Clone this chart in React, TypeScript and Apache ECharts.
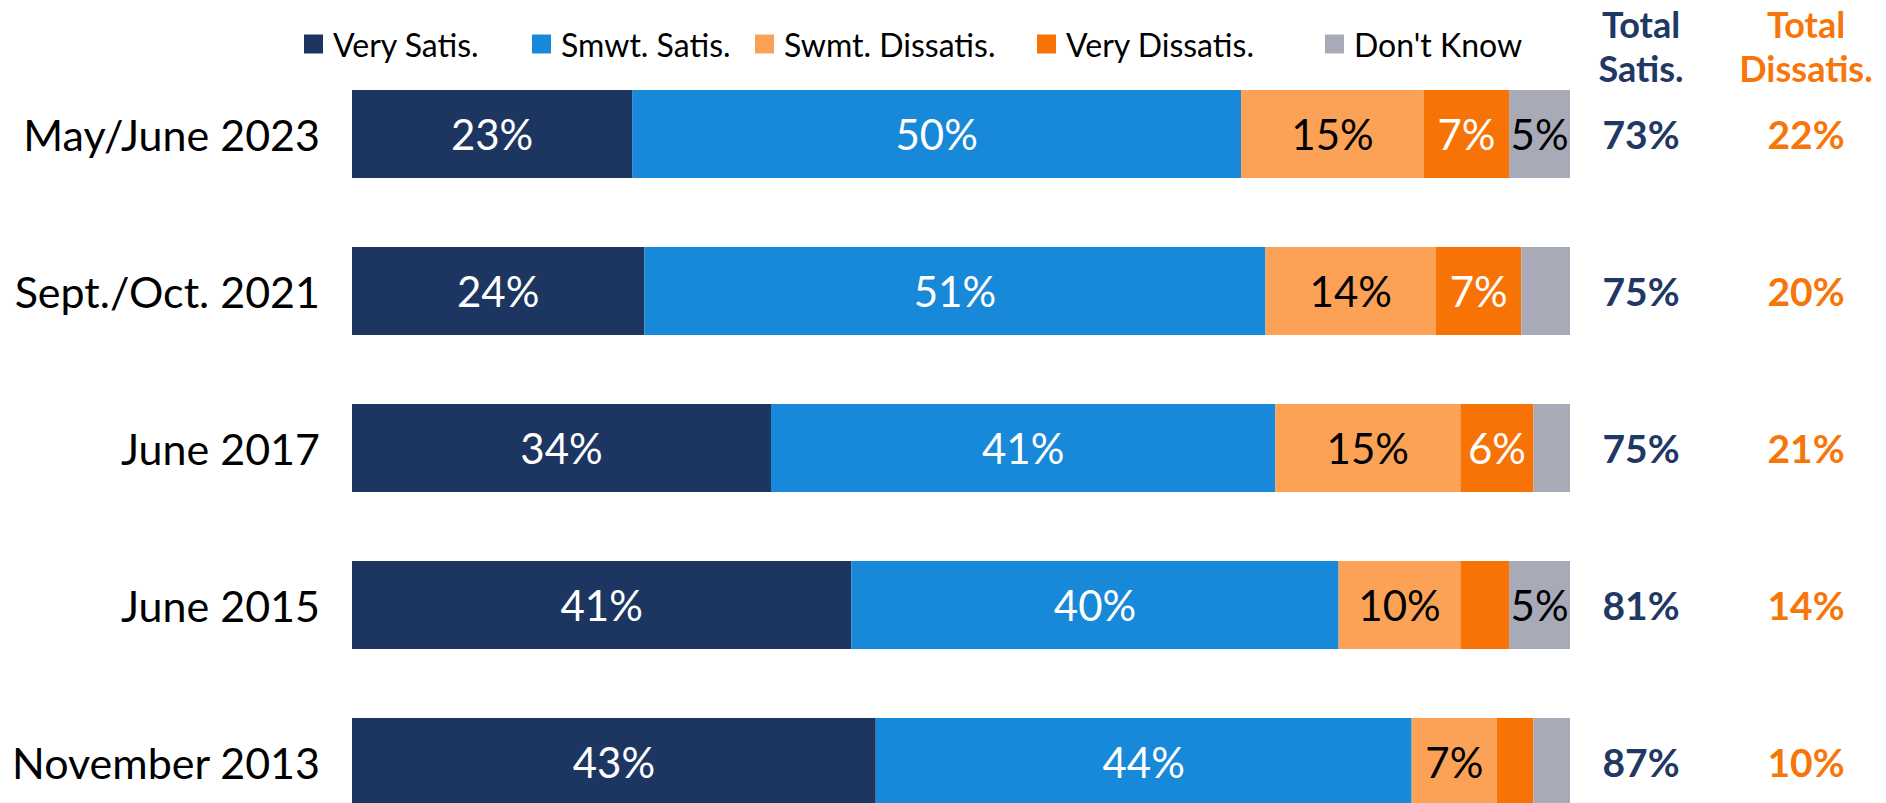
import React, { useEffect, useRef } from 'react';
import * as echarts from 'echarts';

const categories = ['May/June 2023', 'Sept./Oct. 2021', 'June 2017', 'June 2015', 'November 2013'];
const seriesNames = ['Very Satis.', 'Smwt. Satis.', 'Swmt. Dissatis.', 'Very Dissatis.', "Don't Know"];
const verySatis = [23, 24, 34.4, 41, 43];
const smwtSatis = [50, 51, 41.4, 40, 44];
const swmtDissatis = [15, 14, 15.2, 10, 7];
const veryDissatis = [7, 7, 6, 4, 3];
const dontKnow = [5, 4, 3, 5, 3];
const totalColumns = ['Total Satis.', 'Total Dissatis.'];
const totalSatis = [73, 75, 75, 81, 87];
const totalDissatis = [22, 20, 21, 14, 10];

const barColors = ['#1D3661', '#1888D8', '#FBA257', '#F77306', '#A9AAB7'];
const labelColors = ['#FFFFFF', '#FFFFFF', '#000000', '#FFFFFF', '#000000'];
const legendLefts = [304, 532, 755, 1037, 1325];
const totalColors = ['#1F3864', '#F7760A'];
const FONT = 'Lato';

export default function App() {
  const ref = useRef<HTMLDivElement>(null);
  useEffect(() => {
    if (!ref.current) return;
    const chart = echarts.init(ref.current, undefined, { renderer: 'svg' });
    const values = [verySatis, smwtSatis, swmtDissatis, veryDissatis, dontKnow];
    const gridTop = 55.5;
    const gridHeight = 785;
    const barSeries = seriesNames.map((name, k) => ({
      name,
      type: 'bar',
      stack: 'total',
      barWidth: 88,
      xAxisIndex: 0,
      yAxisIndex: 0,
      itemStyle: { color: barColors[k] },
      label: {
        show: true,
        position: 'inside',
        color: labelColors[k],
        fontFamily: FONT,
        fontSize: 42,
        formatter: (p: any) => (p.value >= 5 ? Math.round(p.value) + '%' : ''),
      },
      data: values[k],
    }));
    const totalSeries = [totalSatis, totalDissatis].map((arr, c) => ({
      name: totalColumns[c],
      type: 'scatter',
      xAxisIndex: 1,
      yAxisIndex: 1,
      symbolSize: 0,
      itemStyle: { opacity: 1, color: totalColors[c] },
      label: {
        show: true,
        position: 'inside',
        color: totalColors[c],
        opacity: 1,
        fontFamily: FONT,
        fontWeight: 'bold',
        fontSize: 39,
        formatter: (p: any) => p.value[2] + '%',
      },
      data: arr.map((v, i) => [c, i, v]),
    }));
    const headerLines = [
      ['Total', 'Satis.'],
      ['Total', 'Dissatis.'],
    ];
    const headerX = [1641, 1806];
    const headerY = [24, 68];
    const graphic: any[] = [];
    headerLines.forEach((lines, c) =>
      lines.forEach((t, j) =>
        graphic.push({
          type: 'text',
          x: headerX[c],
          y: headerY[j],
          style: {
            text: t,
            fill: totalColors[c],
            font: `bold 36px ${FONT}`,
            align: 'center',
            verticalAlign: 'middle',
          },
        })
      )
    );
    chart.setOption({
      animation: false,
      legend: seriesNames.map((name, k) => ({
        data: [name],
        left: legendLefts[k],
        top: 28,
        padding: 0,
        icon: 'rect',
        itemWidth: 19,
        itemHeight: 19,
        selectedMode: false,
        textStyle: {
          fontFamily: FONT,
          fontSize: 32,
          color: '#000',
          lineHeight: 19,
          padding: [0, 0, 0, 5],
        },
      })),
      grid: [
        { left: 352, width: 1218, top: gridTop, height: gridHeight, containLabel: false, outerBoundsMode: 'none' },
        { left: 1558.5, width: 330, top: gridTop, height: gridHeight, containLabel: false, outerBoundsMode: 'none' },
      ],
      xAxis: [
        { type: 'value', gridIndex: 0, min: 0, max: 100, show: false },
        { type: 'category', gridIndex: 1, data: totalColumns, show: false },
      ],
      yAxis: [
        {
          type: 'category',
          gridIndex: 0,
          inverse: true,
          data: categories,
          axisLine: { show: false },
          axisTick: { show: false },
          axisLabel: {
            fontFamily: FONT,
            fontSize: 43,
            color: '#000',
            margin: 32,
            padding: [0, 0, 10, 0],
          },
        },
        { type: 'category', gridIndex: 1, inverse: true, data: categories, show: false },
      ],
      graphic,
      series: [...barSeries, ...totalSeries],
    });
    return () => chart.dispose();
  }, []);
  return (
    <div style={{ position: 'fixed', left: 0, top: 0, width: 1886, height: 803, overflow: 'hidden', background: '#fff' }}>
      <div ref={ref} style={{ width: 1886, height: 841 }} />
    </div>
  );
}
